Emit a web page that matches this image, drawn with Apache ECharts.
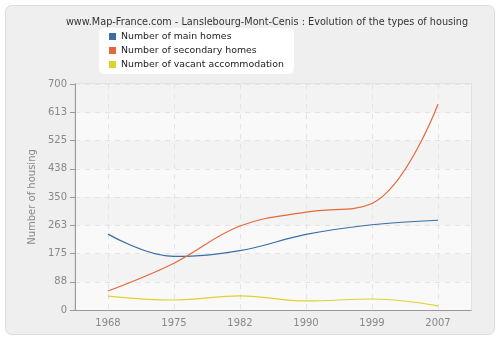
<!DOCTYPE html>
<html><head><meta charset="utf-8">
<script src="https://cdn.jsdelivr.net/npm/echarts@6/dist/echarts.min.js"></script>
<style>html,body{margin:0;padding:0;background:#fff}#c{width:500px;height:340px}</style>
</head><body><div id="c"></div>
<script>
const categories = ['1968','1975','1982','1990','1999','2007'];
const mainHomes = [235, 166, 184, 234, 264, 278];
const secondaryHomes = [59, 145, 260, 303, 330, 637];
const vacant = [43, 31, 44, 28, 34, 13];
const yTicks = [0, 88, 175, 263, 350, 438, 525, 613, 700];

const chart = echarts.init(document.getElementById('c'));
const font = 'DejaVu Sans';
chart.setOption({
  animation: false,
  backgroundColor: '#ffffff',
  textStyle: {fontFamily: font},
  graphic: [
    {type: 'rect', z: -10, shape: {x: 5.5, y: 5.5, width: 489, height: 329, r: 6},
     style: {fill: '#efefef', stroke: '#dcdcdc', lineWidth: 1}},
    {type: 'rect', z: -5, shape: {x: 75, y: 84, width: 396, height: 226},
     style: {fill: 'none', stroke: '#e2e2e2', lineWidth: 2}}
  ],
  title: {
    text: 'www.Map-France.com - Lanslebourg-Mont-Cenis : Evolution of the types of housing',
    left: 267, top: 12, textAlign: 'center',
    textStyle: {fontSize: 9.7, fontWeight: 'normal', color: '#333', fontFamily: font}
  },
  legend: {
    orient: 'vertical', left: 99, top: 28, itemWidth: 7, itemHeight: 7, itemGap: 3,
    padding: [3, 10, 4, 10],
    backgroundColor: '#ffffff', borderRadius: 5,
    icon: 'rect',
    textStyle: {fontSize: 9.4, lineHeight: 11, color: '#222', fontFamily: font},
    data: ['Number of main homes', 'Number of secondary homes', 'Number of vacant accommodation']
  },
  grid: {left: 75, right: 29, top: 84, bottom: 30, containLabel: false,
    show: true, backgroundColor: '#fafafa', borderWidth: 0},
  xAxis: {
    type: 'category', data: categories, boundaryGap: true,
    axisLine: {lineStyle: {color: '#999'}},
    axisTick: {alignWithLabel: true, length: 5, lineStyle: {color: '#999'}},
    axisLabel: {color: '#888', fontSize: 10, fontFamily: font, margin: 8},
    splitLine: {show: true, alignWithLabel: true, lineStyle: {color: '#e4e4e4', type: [5, 5]}}
  },
  yAxis: {
    type: 'value', min: 0, max: 700, interval: 87.5,
    name: 'Number of housing', nameLocation: 'middle', nameGap: 34,
    nameTextStyle: {color: '#888', fontSize: 10, fontFamily: font},
    axisLine: {show: true, lineStyle: {color: '#999'}},
    axisTick: {show: true, length: 5, lineStyle: {color: '#999'}},
    axisLabel: {color: '#888', fontSize: 10, fontFamily: font, margin: 8,
      formatter: v => String(yTicks[Math.round(v / 87.5)])},
    splitLine: {show: true, lineStyle: {color: '#e4e4e4', type: [5, 5]}},
    splitArea: {show: true, areaStyle: {color: ['#f9f9f9', '#f3f3f3']}}
  },
  series: [
    {name: 'Number of main homes', type: 'line', smooth: 0.4, data: mainHomes,
     symbol: 'none', color: '#3b6ea5', lineStyle: {width: 1.2}},
    {name: 'Number of secondary homes', type: 'line', smooth: 0.4, data: secondaryHomes,
     symbol: 'none', color: '#e5683a', lineStyle: {width: 1.2}},
    {name: 'Number of vacant accommodation', type: 'line', smooth: 0.4, data: vacant,
     symbol: 'none', color: '#dfd130', lineStyle: {width: 1.2}}
  ]
});
chart.setOption({title: {left: 262}});
</script></body></html>
